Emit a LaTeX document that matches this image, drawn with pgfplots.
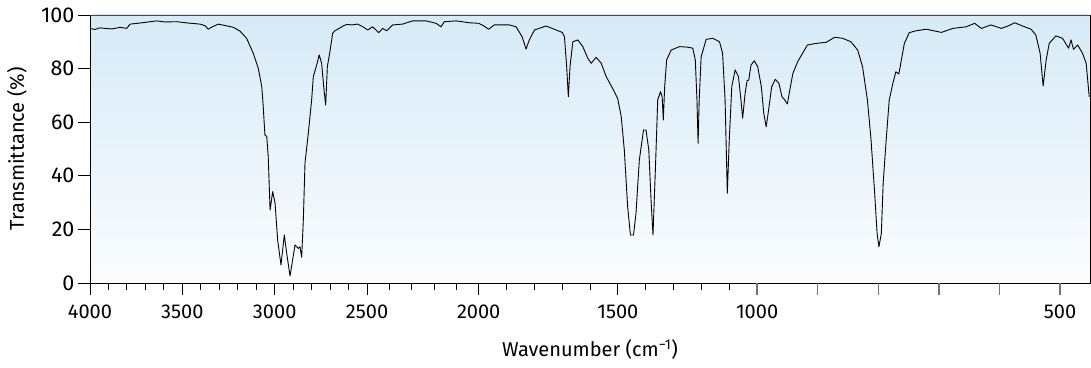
\documentclass[border=0pt]{standalone}
\usepackage{fontspec}
\setmainfont{Fira Sans}
\usepackage{pgfplots}
\pgfplotsset{compat=1.18}
\definecolor{bgtop}{RGB}{214,234,247}
\definecolor{bgbot}{RGB}{251,253,254}

\begin{document}
\begin{tikzpicture}
\begin{axis}[
  scale only axis, width=1000pt, height=268pt,
  xmin=0, xmax=1000, ymin=0, ymax=100,
  axis background/.style={top color=bgtop, bottom color=bgbot},
  axis line style={black, line width=0.9pt},
  xtick pos=left, ytick pos=left, tick align=outside,
  major tick length=12pt, minor tick length=7pt,
  tick style={black, line width=0.9pt},
  xtick={0,92.35,184.7,277.05,388.7,527.9},
  xticklabels={4000,3500,3000,2500,2000,1500},
  minor xtick={18.47,36.94,55.41,73.88,110.82,129.29,147.76,166.23,203.17,221.64,240.11,258.58,299.38,321.71,344.04,366.37,416.54,444.38,472.22,500.06,555.74,583.58,611.42,639.26},
  extra x ticks={667.1,727.7,788.3,848.9,909.5,970.1},
  extra x tick labels={1000,,,,,500},
  extra x tick style={major tick style={draw=black!55, line width=1.5pt}},
  ytick={0,20,40,60,80,100},
  yticklabels={0,20,40,60,80,100},
  xticklabel style={font=\fontsize{20}{24}\selectfont, yshift=-6pt},
  yticklabel style={font=\fontsize{21.5}{25}\selectfont},
  xlabel={Wavenumber (cm\textsuperscript{−1})},
  ylabel={Transmittance (\%)},
  every axis x label/.style={at={(axis description cs:0.5,-0.25)}, anchor=center, font=\fontsize{20}{24}\selectfont},
  every axis y label/.style={at={(axis description cs:-0.073,0.5)}, anchor=center, rotate=90, font=\fontsize{20}{24}\selectfont},
  clip=true,
]
\addplot[black, line width=0.9pt, line join=round] table[x expr={0.1847*(4000-max(\thisrowno{0},2500)) + 0.2233*(2500-max(min(\thisrowno{0},2500),2000)) + 0.2784*(2000-max(min(\thisrowno{0},2000),1000)) + 0.606*(1000-min(\thisrowno{0},1000))}, y index=1] {
nu T
4000 95.0
3973 94.6
3946 95.2
3919 95.0
3881 94.8
3838 95.4
3801 95.0
3783 96.6
3729 97.0
3639 97.8
3594 97.4
3531 97.5
3469 97.0
3404 96.6
3377 96.0
3360 94.7
3340 95.5
3305 96.6
3264 96.0
3224 95.4
3188 94.0
3152 91.3
3116 85.7
3089 80.1
3070 73.3
3062 65.8
3053 55.2
3043 54.7
3035 47.1
3025 27.2
3011 34.1
2998 29.8
2984 16.0
2966 6.7
2948 17.9
2935 11.1
2917 2.6
2890 14.2
2872 12.9
2863 13.5
2854 9.6
2845 23.5
2836 44.7
2818 55.9
2800 68.3
2791 77.0
2773 81.3
2759 85.1
2746 82.0
2733 72.0
2724 66.4
2715 80.7
2704 85.1
2697 88.2
2686 93.2
2674 94.1
2629 95.9
2610 96.5
2583 96.3
2551 96.6
2522 95.6
2497 94.4
2475 95.6
2448 93.4
2430 95.0
2412 94.1
2385 96.3
2341 96.6
2296 97.8
2236 97.8
2191 96.9
2169 95.6
2154 97.5
2101 97.8
2042 97.1
2000 96.9
1983 96.0
1964 94.7
1944 96.3
1890 96.3
1866 95.6
1844 91.9
1830 87.3
1818 90.7
1800 94.4
1758 95.9
1722 94.4
1700 93.5
1692 91.9
1684 80.7
1678 69.5
1672 80.7
1662 90.0
1644 90.7
1626 88.2
1608 83.8
1596 82.0
1578 84.2
1560 82.0
1542 77.0
1519 72.6
1501 68.9
1488 62.1
1477 49.6
1465 28.5
1455 17.9
1444 17.9
1435 26.0
1423 45.9
1408 57.1
1399 57.1
1389 49.6
1381 31.0
1374 17.9
1365 43.4
1357 68.3
1347 71.4
1341 69.5
1337 60.8
1332 73.2
1325 83.2
1309 86.9
1279 88.2
1249 88.0
1231 87.6
1222 83.2
1216 68.3
1212 52.1
1208 68.3
1201 84.4
1183 90.9
1159 91.3
1135 90.0
1124 85.7
1115 68.3
1107 33.5
1100 53.4
1091 73.2
1079 79.5
1067 77.0
1058 68.3
1052 61.5
1043 70.8
1036 75.5
1030 75.7
1022 81.3
1010 82.9
999 80.7
993 73.2
989 63.3
985 58.3
981 64.6
976 73.2
970 76.0
964 74.5
959 69.5
955 68.5
950 66.8
947 70.8
941 78.2
933 82.6
925 85.7
917 88.8
903 89.4
886 89.8
872 91.7
859 91.3
845 90.0
834 86.9
826 80.7
818 68.3
812 53.4
806 33.5
802 18.5
799 13.5
795 18.5
792 37.2
787 53.4
782 68.3
776 74.5
771 78.8
766 78.0
762 83.2
757 89.4
749 93.4
738 94.1
721 94.7
696 93.5
677 95.0
655 95.6
641 96.9
630 95.0
614 96.3
597 95.0
586 95.9
575 97.1
562 95.9
548 94.7
540 92.5
533 85.7
528 73.5
523 83.2
518 89.4
507 92.2
496 91.3
486 87.6
482 90.7
478 87.2
471 88.8
463 85.7
457 82.0
452 69.5
};
\draw[black!72, line width=0.9pt] (rel axis cs:0,1) -- (rel axis cs:1,1);
\coordinate (sw) at (rel axis cs:0,0);
\coordinate (ne) at (rel axis cs:1,1);
\end{axis}
\pgfresetboundingbox
\path ([shift={(-90pt,-85pt)}]sw) rectangle ([shift={(1pt,15pt)}]ne);
\end{tikzpicture}
\end{document}
